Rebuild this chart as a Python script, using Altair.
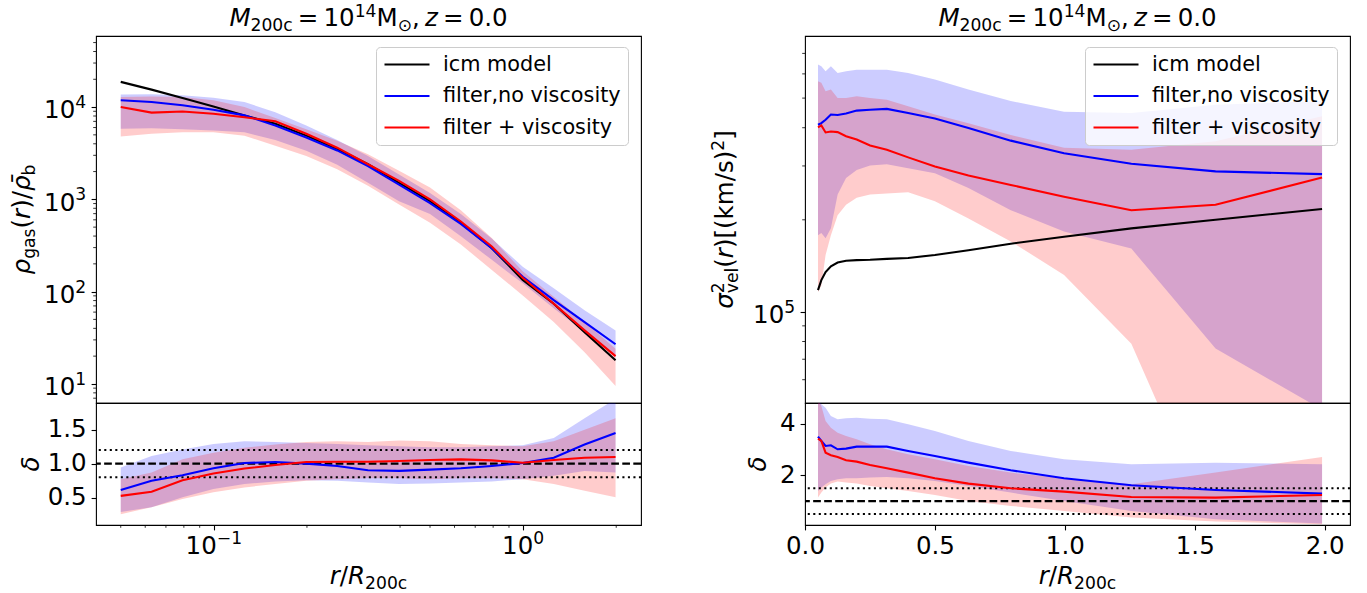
import altair as alt
import pandas as pd

FONT = "DejaVu Sans"
F = 24.5      # tick / title font size (px)
FL = 20.8     # legend font size (px)

# ---------------- data ----------------
r = [0.05, 0.0629, 0.0792, 0.0997, 0.1256, 0.158, 0.199, 0.2505, 0.315,
     0.397, 0.5, 0.629, 0.792, 0.997, 1.256, 1.58, 1.99]

series = ["icm model", "filter,no viscosity", "filter + viscosity"]
colors = ["black", "blue", "red"]

# left main: rho_gas / rho_b
rho_model = [18750, 15450, 12530, 10160, 8110, 6610, 4900, 3510, 2400, 1510,
             955, 556, 295, 134, 74, 36.3, 18.0]
rho_nov = [11830, 11350, 10470, 9330, 8130, 6310, 4680, 3390, 2290, 1445,
           912, 543, 295, 145, 81, 46.8, 26.9]
rho_visc = [10000, 8710, 8970, 8450, 7760, 7030, 5130, 3630, 2400, 1585,
            1000, 575, 309, 141, 74, 38, 20]
rho_nov_hi = [13650, 13740, 13400, 12590, 11350, 8810, 6310, 4410, 2950, 1860,
              1175, 692, 376, 186, 109, 63, 38]
rho_nov_lo = [5810, 5890, 5750, 5560, 5330, 4410, 3370, 2370, 1510, 955,
              692, 398, 221, 123, 66, 36.3, 19.5]
rho_visc_hi = [12880, 13030, 12880, 11890, 10000, 7590, 5750, 4325, 3090, 2040,
               1340, 760, 380, 166, 88, 46.8, 24]
rho_visc_lo = [4790, 5130, 5330, 5330, 4900, 3800, 2950, 2120, 1400, 881,
               556, 324, 172, 91, 46.8, 22.1, 9.5]

# left residual
drho_nov = [0.614, 0.749, 0.831, 0.932, 1.010, 1.024, 1.0, 0.966, 0.903, 0.894,
            0.913, 0.932, 0.966, 1.010, 1.087, 1.28, 1.449]
drho_visc = [0.527, 0.589, 0.758, 0.855, 0.928, 0.981, 1.024, 1.029, 1.029, 1.039,
             1.053, 1.063, 1.048, 1.014, 1.053, 1.087, 1.097]
drho_nov_hi = [0.942, 1.111, 1.208, 1.29, 1.329, 1.319, 1.304, 1.29, 1.27, 1.256,
               1.242, 1.242, 1.256, 1.27, 1.377, 1.667, 1.95]
drho_nov_lo = [0.290, 0.362, 0.507, 0.628, 0.70, 0.739, 0.758, 0.749, 0.725, 0.70,
               0.71, 0.725, 0.739, 0.773, 0.821, 0.894, 0.870]
drho_visc_hi = [0.773, 0.870, 1.063, 1.159, 1.232, 1.28, 1.319, 1.329, 1.319, 1.338,
                1.329, 1.29, 1.27, 1.256, 1.329, 1.498, 1.667]
drho_visc_lo = [0.256, 0.362, 0.483, 0.58, 0.652, 0.70, 0.749, 0.773, 0.787, 0.787,
                0.773, 0.787, 0.787, 0.773, 0.70, 0.604, 0.507]

# right main: sigma^2_vel
sig_model = [117800, 127000, 135000, 141000, 145000, 147000, 147600, 148000, 149000,
             150000, 153500, 159000, 167000, 176000, 187500, 200000, 217000]
sig_nov = [409000, 414000, 425000, 442000, 440000, 445000, 455000, 458000, 461000,
           447000, 429000, 399000, 363000, 330000, 305000, 288000, 282000]
sig_visc = [401000, 407000, 386000, 389000, 387000, 375000, 366000, 350000, 339000,
            320000, 299000, 279000, 260000, 238000, 215000, 224000, 275000]
sig_nov_hi = [644000, 635000, 612000, 635000, 604000, 612000, 619000, 619000, 619000,
              604000, 575000, 533000, 489000, 451000, 447000, 476000, 489000]
sig_nov_lo = [178000, 181000, 174000, 187500, 242000, 274000, 291000, 301000, 304000,
              295000, 284000, 254000, 215000, 183000, 161000, 75900, 47900]
sig_visc_hi = [568000, 561000, 526000, 533000, 500000, 500000, 507000, 500000, 494000,
               470000, 442000, 414000, 379000, 344000, 339000, 361000, 436000]
sig_visc_lo = [116000, 122000, 153500, 178000, 207000, 224000, 236000, 242000, 244000,
               246000, 230000, 202000, 170000, 132000, 78700, 18600, 10000]

# right residual
dsig_nov = [3.497, 3.329, 3.135, 3.161, 3.006, 3.032, 3.11, 3.11, 3.11, 2.942,
            2.748, 2.49, 2.194, 1.884, 1.613, 1.432, 1.29]
dsig_visc = [3.419, 3.329, 2.877, 2.774, 2.71, 2.581, 2.529, 2.40, 2.271, 2.103,
             1.884, 1.677, 1.497, 1.368, 1.161, 1.135, 1.239]
dsig_nov_hi = [4.95, 4.748, 4.619, 4.297, 4.168, 4.206, 4.232, 4.19, 4.168, 3.974,
               3.716, 3.329, 2.942, 2.619, 2.426, 2.49, 2.426]
dsig_nov_lo = [1.394, 1.523, 1.652, 1.781, 1.845, 1.884, 1.884, 1.910, 1.935, 1.884,
               1.781, 1.587, 1.329, 1.006, 0.619, 0.297, 0.129]
dsig_visc_hi = [4.95, 4.684, 4.103, 3.845, 3.652, 3.523, 3.394, 3.2, 3.006, 2.813,
                2.619, 2.361, 2.103, 1.884, 1.652, 2.103, 2.71]
dsig_visc_lo = [1.135, 1.329, 1.523, 1.677, 1.755, 1.716, 1.677, 1.587, 1.497, 1.394,
                1.239, 1.006, 0.813, 0.619, 0.361, 0.206, 0.103]

# tick positions and labels
yL_major = [10, 100, 1000, 10000]
yL_exp = ["1", "2", "3", "4"]
yL_minor = [7, 8, 9, 20, 30, 40, 50, 60, 70, 80, 90, 200, 300, 400, 500, 600, 700,
            800, 900, 2000, 3000, 4000, 5000, 6000, 7000, 8000, 9000, 20000, 30000,
            40000, 50000]
yR_major = [100000]
yR_exp = ["5"]
yR_minor = [60000, 70000, 80000, 90000, 200000, 300000, 400000, 500000, 600000, 700000]
xL_major = [0.1, 1.0]
xL_exp = ["\u22121", "0"]
xL_minor = [0.05, 0.06, 0.07, 0.08, 0.09, 0.2, 0.3, 0.4, 0.5, 0.6, 0.7, 0.8, 0.9, 2.0]
xR_major = [0.0, 0.5, 1.0, 1.5, 2.0]
dL_ticks = [0.5, 1.0, 1.5]
dR_ticks = [2, 4]
dL_lines = [1.0, 1.2, 0.8]
dR_lines = [1.0, 1.5, 0.5]

# ---------------- layout constants ----------------
W_PLOT = 545
H_MAIN = 367
H_RES = 122
TICK = 4.9
PAD = 4.9
LW = 2.08

one = pd.DataFrame({"o": [0]})

# DejaVu Sans advance widths (units / 2048)
ADV = {' ': 651, ',': 651, '.': 651, '/': 690, '=': 1716, '(': 799, ')': 799,
       '[': 799, ']': 799, 'M': 1767, 'R': 1423, 'a': 1255, 'b': 1300, 'c': 1126,
       'e': 1260, 'g': 1300, 'k': 1186, 'l': 569, 'm': 1995, 'r': 842, 's': 1067,
       'v': 1212, 'z': 1075, 'ρ': 1300, 'σ': 1300, 'δ': 1253, '⊙': 1716,
       '\u0304': 0, '\u2009': 430, '\u2212': 1716}
for _d in "0123456789":
    ADV[_d] = 1303


def tw(s, size):
    return sum(ADV.get(c, 1200) for c in s) / 2048.0 * size


SUB = -0.2
SUP = 0.36
TS = "\u2009"


def rich(pieces, ax, ay, rotate=False):
    total = sum(tw(t, F * sc) for t, sc, it, sh, adv in pieces if adv)
    pos = -total / 2.0
    out = []
    for t, sc, it, sh, adv in pieces:
        size = F * sc
        if t.strip(TS + " "):
            if rotate:
                x, y, ang = ax - sh * F, ay - pos, 270
            else:
                x, y, ang = ax + pos, ay - sh * F, 0
            out.append(
                alt.Chart(one).mark_text(
                    text=t, font=FONT, fontSize=size,
                    fontStyle="italic" if it else "normal",
                    align="left", baseline="alphabetic", angle=ang, color="black"
                ).encode(x=alt.value(x), y=alt.value(y))
            )
        if adv:
            pos += tw(t, size)
    return out


title_pieces = [("M", 1, True, 0, True), ("200c", 0.7, False, SUB, True),
                (TS, 1, False, 0, True), ("=", 1, False, 0, True), (TS, 1, False, 0, True),
                ("10", 1, False, 0, True),
                ("14", 0.7, False, SUP, True), ("M", 1, False, 0, True),
                ("⊙", 0.7, False, SUB, True), (",", 1, False, 0, True),
                (TS, 1, False, 0, True),
                ("z", 1, True, 0, True), (TS, 1, False, 0, True), ("=", 1, False, 0, True),
                (TS, 1, False, 0, True), ("0.0", 1, False, 0, True)]
xtitle_pieces = [("r", 1, True, 0, True), ("/", 1, False, 0, True),
                 ("R", 1, True, 0, True), ("200c", 0.7, False, SUB, True)]
yL_pieces = [("ρ", 1, True, 0, True), ("gas", 0.7, False, SUB, True),
             ("(", 1, False, 0, True), ("r", 1, True, 0, True),
             (")", 1, False, 0, True), ("/", 1, False, 0, True),
             ("ρ\u0304", 1, True, 0, True), ("b", 0.7, False, SUB, True)]
yR_pieces = [("σ", 1, True, 0, True), ("2", 0.7, False, SUP, False),
             ("vel", 0.7, False, SUB, True), ("(", 1, False, 0, True),
             ("r", 1, True, 0, True), (")", 1, False, 0, True),
             ("[(km/s)", 1, False, 0, True), ("2", 0.7, False, SUP, True),
             ("]", 1, False, 0, True)]
delta_pieces = [("δ", 1, True, 0, True)]

color_scale = alt.Scale(domain=series, range=colors)


def legend():
    return alt.Legend(
        title=None, orient="none", legendX=280, legendY=11, direction="vertical",
        symbolType="stroke", symbolSize=2025, symbolStrokeWidth=LW,
        labelFont=FONT, labelFontSize=FL, labelColor="black", labelOffset=12,
        labelLimit=600, rowPadding=9.5, padding=7, clipHeight=21,
        fillColor="rgba(255,255,255,0.8)", strokeColor="#cccccc", cornerRadius=4,
    )


def panel(df, xscale, xaxis, yscale, yaxis, height, with_model, with_legend,
          minor_x, minor_y, hlines, texts, ylog=None, xlog=None):
    def X(f):
        return alt.X(f, type="quantitative", scale=xscale, axis=xaxis)

    def Y(f):
        return alt.Y(f, type="quantitative", scale=yscale, axis=yaxis)

    base = alt.Chart(df)
    layers = [
        base.mark_area(color="blue", opacity=0.2, clip=True).encode(
            x=X("r"), y=Y("nov_lo"), y2="nov_hi"),
        base.mark_area(color="red", opacity=0.2, clip=True).encode(
            x=X("r"), y=Y("visc_lo"), y2="visc_hi"),
    ]
    for i, v in enumerate(hlines):
        dash = [3.7 * LW, 1.6 * LW] if i == 0 else [1.0 * LW, 1.65 * LW]
        layers.append(
            alt.Chart(one).mark_rule(color="black", strokeWidth=LW, strokeDash=dash).encode(
                y=alt.YDatum(v, type="quantitative", scale=yscale, axis=yaxis))
        )
    cols = (["model"] if with_model else []) + ["nov", "visc"]
    for c in cols:
        name = {"model": series[0], "nov": series[1], "visc": series[2]}[c]
        col = {"model": "black", "nov": "blue", "visc": "red"}[c]
        if with_legend:
            layers.append(base.transform_calculate(series=f"'{name}'").mark_line(
                strokeWidth=LW, clip=True).encode(
                x=X("r"), y=Y(c),
                color=alt.Color("series:N", scale=color_scale, legend=legend())))
        else:
            layers.append(base.mark_line(strokeWidth=LW, clip=True, color=col).encode(
                x=X("r"), y=Y(c)))
    if minor_y:
        layers.append(alt.Chart(pd.DataFrame({"v": minor_y})).mark_rule(
            color="black", strokeWidth=0.8).encode(
            y=Y("v"), x=alt.value(0), x2=alt.value(-2.8)))
    if minor_x:
        layers.append(alt.Chart(pd.DataFrame({"v": minor_x})).mark_rule(
            color="black", strokeWidth=0.8).encode(
            x=X("v"), y=alt.value(height), y2=alt.value(height + 2.8)))
    # power-of-ten tick labels ("10" + raised exponent), placed through the scales
    if ylog:
        for v, e in zip(*ylog):
            we = tw(e, 0.7 * F)
            d = pd.DataFrame({"v": [v]})
            layers.append(alt.Chart(d).mark_text(
                text="10", font=FONT, fontSize=F, align="right", baseline="alphabetic",
                dx=-(TICK + PAD + we), dy=0.46 * F, color="black").encode(
                y=Y("v"), x=alt.value(0)))
            layers.append(alt.Chart(d).mark_text(
                text=e, font=FONT, fontSize=0.7 * F, align="left", baseline="alphabetic",
                dx=-(TICK + PAD + we), dy=0.46 * F - 0.42 * F, color="black").encode(
                y=Y("v"), x=alt.value(0)))
    if xlog:
        for v, e in zip(*xlog):
            w10 = tw("10", F)
            we = tw(e, 0.7 * F)
            tot = w10 + we
            d = pd.DataFrame({"v": [v]})
            layers.append(alt.Chart(d).mark_text(
                text="10", font=FONT, fontSize=F, align="left", baseline="alphabetic",
                dx=-tot / 2.0, color="black").encode(
                x=X("v"), y=alt.value(height + 29)))
            layers.append(alt.Chart(d).mark_text(
                text=e, font=FONT, fontSize=0.7 * F, align="left", baseline="alphabetic",
                dx=-tot / 2.0 + w10, color="black").encode(
                x=X("v"), y=alt.value(height + 29 - 0.42 * F)))
    layers += texts
    return alt.layer(*layers).properties(width=W_PLOT, height=height)


def frame(**kw):
    d = {"r": r}
    for k, v in kw.items():
        d[k] = v
    return pd.DataFrame(d)


dfLm = frame(model=rho_model, nov=rho_nov, visc=rho_visc, nov_lo=rho_nov_lo,
             nov_hi=rho_nov_hi, visc_lo=rho_visc_lo, visc_hi=rho_visc_hi)
dfLr = frame(nov=drho_nov, visc=drho_visc, nov_lo=drho_nov_lo, nov_hi=drho_nov_hi,
             visc_lo=drho_visc_lo, visc_hi=drho_visc_hi)
dfRm = frame(model=sig_model, nov=sig_nov, visc=sig_visc, nov_lo=sig_nov_lo,
             nov_hi=sig_nov_hi, visc_lo=sig_visc_lo, visc_hi=sig_visc_hi)
dfRr = frame(nov=dsig_nov, visc=dsig_visc, nov_lo=dsig_nov_lo, nov_hi=dsig_nov_hi,
             visc_lo=dsig_visc_lo, visc_hi=dsig_visc_hi)

xsL = alt.Scale(type="log", domain=[0.04159, 2.405], nice=False)
xsR = alt.Scale(type="linear", domain=[0.0, 2.0975], nice=False, zero=False)

axYL = alt.Axis(values=yL_major, labels=False, title=None)
axYR = alt.Axis(values=yR_major, labels=False, title=None)
axXL = alt.Axis(values=xL_major, labels=False, title=None)
axXR = alt.Axis(values=xR_major, format=".1f", title=None)
axDL = alt.Axis(values=dL_ticks, format=".1f", title=None)
axDR = alt.Axis(values=dR_ticks, format="d", title=None)

ysLm = alt.Scale(type="log", domain=[6.21, 58900], nice=False)
ysRm = alt.Scale(type="log", domain=[50350, 798000], nice=False)
ysLr = alt.Scale(type="linear", domain=[0.10, 1.89], nice=False, zero=False)
ysRr = alt.Scale(type="linear", domain=[0.074, 4.80], nice=False, zero=False)

anchor = alt.Chart(one).mark_rect(opacity=0).encode(
    x=alt.value(-95), x2=alt.value(-94), y=alt.value(-35), y2=alt.value(-34))

cx = W_PLOT / 2.0

mainL = panel(dfLm, xsL, None, ysLm, axYL, H_MAIN, True, True, None, yL_minor, [],
              rich(title_pieces, cx, -10) + rich(yL_pieces, -66, H_MAIN / 2.0, rotate=True)
              + [anchor], ylog=(yL_major, yL_exp))
mainR = panel(dfRm, xsR, None, ysRm, axYR, H_MAIN, True, True, None, yR_minor, [],
              rich(title_pieces, cx, -10) + rich(yR_pieces, -72, H_MAIN / 2.0, rotate=True),
              ylog=(yR_major, yR_exp))
resL = panel(dfLr, xsL, axXL, ysLr, axDL, H_RES, False, False, xL_minor, None, dL_lines,
             rich(xtitle_pieces, cx, H_RES + 59) + rich(delta_pieces, -57, H_RES / 2.0, rotate=True),
             xlog=(xL_major, xL_exp))
resR = panel(dfRr, xsR, axXR, ysRr, axDR, H_RES, False, False, None, None, dR_lines,
             rich(xtitle_pieces, cx, H_RES + 59) + rich(delta_pieces, -39, H_RES / 2.0, rotate=True))

chart = alt.concat(
    mainL, mainR, resL, resR, columns=2,
    spacing={"row": 0, "column": 164}, bounds="flush",
).resolve_scale(
    x="independent", y="independent", color="independent"
).resolve_legend(
    color="independent"
).properties(
    padding=0, background="white"
).configure_view(
    stroke="black", strokeWidth=1.1
).configure_axis(
    labelFont=FONT, labelFontSize=F, labelColor="black", tickColor="black",
    tickWidth=1.1, tickSize=TICK, labelPadding=PAD, domain=False, grid=False,
    labelOverlap=False, labelFlush=False
)

chart.save("out.html", embed_options={"renderer": "svg", "actions": False})
